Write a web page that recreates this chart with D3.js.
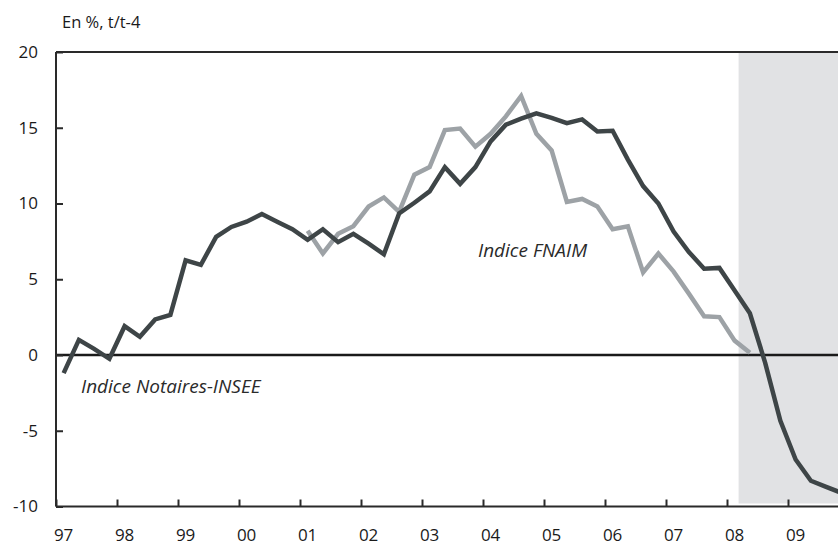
<!DOCTYPE html>
<html>
<head>
<meta charset="utf-8">
<script src="https://cdn.jsdelivr.net/npm/d3@7"></script>
<style>
  body { margin: 0; background: #fff; }
  svg { display: block; font-family: "Open Sans", Lato, sans-serif; }
</style>
</head>
<body>
<div id="chart"></div>
<script>
// quarterly series, % change over 4 quarters
const years = [1997, 1998, 1999, 2000, 2001, 2002, 2003, 2004, 2005, 2006, 2007, 2008, 2009];
const yearLabels = ["97", "98", "99", "00", "01", "02", "03", "04", "05", "06", "07", "08", "09"];
const yTicks = [20, 15, 10, 5, 0, -5, -10];

// Indice Notaires-INSEE, 1997Q1 .. 2009Q4
const notaires = [
  -1.2, 1.0, 0.4, -0.25,
  1.9, 1.2, 2.35, 2.65,
  6.25, 5.95, 7.8, 8.45,
  8.8, 9.3, 8.8, 8.3,
  7.6, 8.3, 7.45, 8.0,
  7.35, 6.65, 9.35, 10.05,
  10.8, 12.4, 11.3, 12.4,
  14.1, 15.2, 15.6, 15.95,
  15.65, 15.3, 15.55, 14.75,
  14.8, 12.9, 11.15, 10.0,
  8.15, 6.8, 5.7, 5.75,
  4.25, 2.75, -0.5, -4.35,
  -6.9, -8.3, -8.7, -9.1
];
const notairesStart = 1997;

// Indice FNAIM, 2001Q1 .. 2008Q2
const fnaim = [
  8.2, 6.7, 8.0, 8.5,
  9.8, 10.4, 9.45, 11.9,
  12.4, 14.85, 14.95, 13.75,
  14.6, 15.75, 17.1, 14.6,
  13.5, 10.1, 10.3, 9.8,
  8.3, 8.5, 5.45, 6.7,
  5.5, 4.05, 2.55, 2.5,
  0.95, 0.15
];
const fnaimStart = 2001;

const forecastStart = 2008.19;

const width = 838, height = 546;
const marginLeft = 56, plotTop = 52, plotBottom = 506.5;

const svg = d3.select("#chart").append("svg")
  .attr("width", width)
  .attr("height", height);

const x = d3.scaleLinear().domain([1997, 2010]).range([marginLeft, marginLeft + 61 * 13]);
const y = d3.scaleLinear().domain([-10, 20]).range([plotBottom, plotTop]);

const toPoints = (vals, start) => vals.map((v, i) => [start + (i + 0.5) / 4, v]);

// shaded forecast zone
svg.append("rect")
  .attr("x", x(forecastStart))
  .attr("y", y(20))
  .attr("width", x(2010) - x(forecastStart))
  .attr("height", y(-10) - y(20) - 3)
  .style("fill", "#e1e2e4");

// zero line
svg.append("line")
  .attr("x1", x(1997)).attr("x2", width)
  .attr("y1", y(0)).attr("y2", y(0))
  .style("stroke", "#1a1a1a")
  .style("stroke-width", 2.5);

// top frame line
svg.append("line")
  .attr("x1", x(1997)).attr("x2", width)
  .attr("y1", y(20)).attr("y2", y(20))
  .style("stroke", "#2a2a2a")
  .style("stroke-width", 2);

const line = d3.line().x(d => x(d[0])).y(d => y(d[1]));

svg.append("path")
  .datum(toPoints(fnaim, fnaimStart))
  .attr("d", line)
  .style("fill", "none")
  .style("stroke", "#9da2a6")
  .style("stroke-width", 4.5)
  .style("stroke-linejoin", "miter");

svg.append("path")
  .datum(toPoints(notaires, notairesStart))
  .attr("d", line)
  .style("fill", "none")
  .style("stroke", "#3e4547")
  .style("stroke-width", 4.5)
  .style("stroke-linejoin", "miter");

// axes
const xAxis = svg.append("g")
  .attr("transform", `translate(0, ${plotBottom})`)
  .call(d3.axisBottom(x).tickValues(years).tickSize(-7).tickFormat(""));
xAxis.select(".domain").attr("d", `M${x(1997)},0H${width}`);

const yAxis = svg.append("g")
  .attr("transform", `translate(${marginLeft}, 0)`)
  .call(d3.axisLeft(y).tickValues(yTicks).tickSize(-7).tickPadding(18).tickFormat(d => d));
yAxis.select(".domain").attr("d", `M0,${plotTop}V${plotBottom}`);

[xAxis, yAxis].forEach(g => {
  g.selectAll(".domain, .tick line").style("stroke", "#2a2a2a").style("stroke-width", 2);
});
yAxis.selectAll(".tick text")
  .style("font-size", "17px")
  .style("fill", "#1a1a1a")
  .style("font-family", "'Open Sans', Lato, sans-serif");

svg.append("g").selectAll("text")
  .data(years)
  .enter()
  .append("text")
  .attr("x", d => x(d + 0.125))
  .attr("y", 541)
  .attr("text-anchor", "middle")
  .style("font-size", "17px")
  .style("fill", "#1a1a1a")
  .text((d, i) => yearLabels[i]);

// unit label
svg.append("text")
  .attr("x", 62).attr("y", 28)
  .style("font-size", "16.5px")
  .style("fill", "#1a1a1a")
  .text("En %, t/t-4");

// series labels
svg.append("text")
  .attr("x", 81).attr("y", 393)
  .style("font-size", "19px")
  .style("font-style", "italic")
  .style("fill", "#2a2a2a")
  .text("Indice Notaires-INSEE");

svg.append("text")
  .attr("x", 478).attr("y", 257)
  .style("font-size", "19px")
  .style("font-style", "italic")
  .style("fill", "#2a2a2a")
  .text("Indice FNAIM");
</script>
</body>
</html>
